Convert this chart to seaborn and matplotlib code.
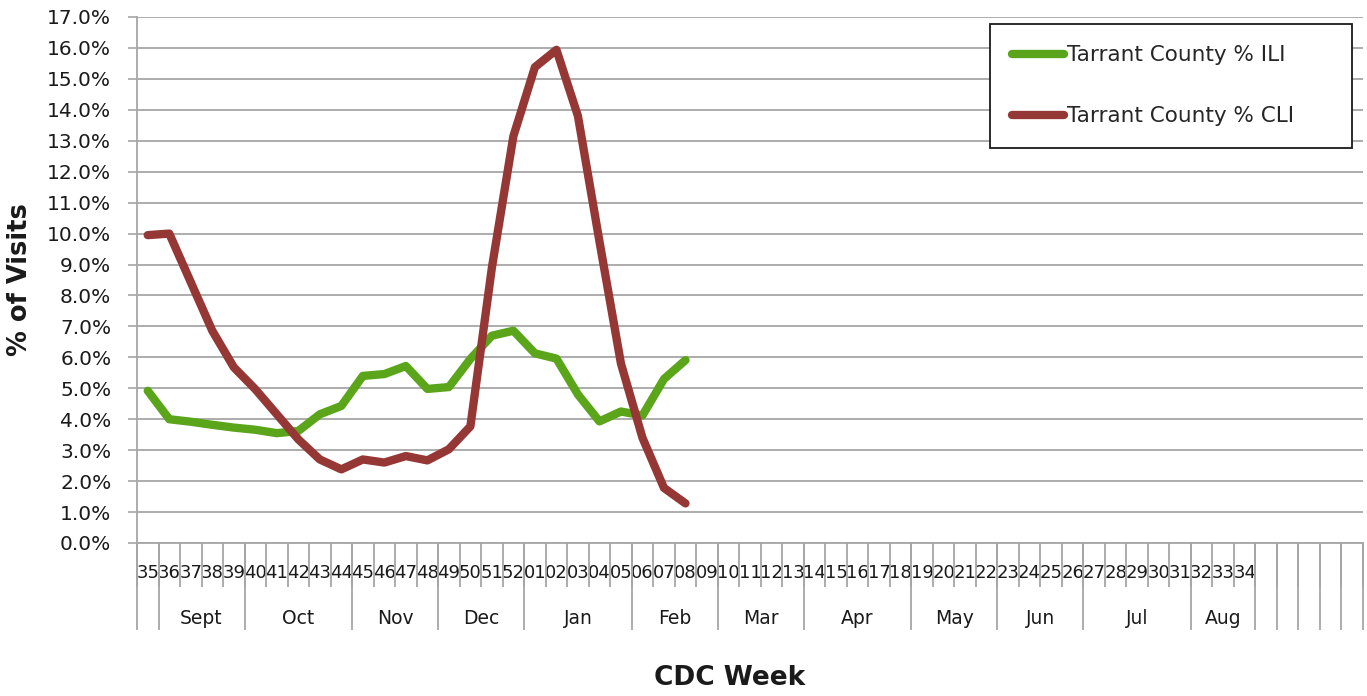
import numpy as np
import pandas as pd
import matplotlib
matplotlib.use("Agg")
import matplotlib.pyplot as plt
import seaborn as sns

# CDC week slots on the x axis (35 .. 52, 01 .. 34)
weeks = ["35", "36", "37", "38", "39", "40", "41", "42", "43", "44", "45",
         "46", "47", "48", "49", "50", "51", "52", "01", "02", "03", "04",
         "05", "06", "07", "08", "09", "10", "11", "12", "13", "14", "15",
         "16", "17", "18", "19", "20", "21", "22", "23", "24", "25", "26",
         "27", "28", "29", "30", "31", "32", "33", "34"]
extra_slots = 5  # empty columns after week 34

# month groups under the week labels (label, number of week slots)
months = ["", "Sept", "Oct", "Nov", "Dec", "Jan", "Feb", "Mar", "Apr",
          "May", "Jun", "Jul", "Aug"]
month_spans = [1, 4, 5, 4, 4, 5, 4, 4, 5, 4, 4, 5, 3]

# % of visits, weeks 35 .. 08
ili = [4.92, 4.00, 3.92, 3.82, 3.73, 3.66, 3.55, 3.62, 4.16, 4.43, 5.40,
       5.46, 5.72, 4.98, 5.04, 5.95, 6.70, 6.86, 6.13, 5.96, 4.80, 3.93,
       4.25, 4.12, 5.30, 5.91]
cli = [9.95, 10.00, 8.43, 6.86, 5.68, 4.97, 4.16, 3.35, 2.70, 2.38, 2.70,
       2.60, 2.81, 2.67, 3.03, 3.77, 8.90, 13.15, 15.38, 15.94, 13.80, 9.75,
       5.80, 3.40, 1.78, 1.28]

series_names = ["Tarrant County % ILI", "Tarrant County % CLI"]
colors = {"Tarrant County % ILI": "#5aa51a",
          "Tarrant County % CLI": "#953735"}

df = pd.concat([
    pd.DataFrame({"pos": range(len(ili)), "value": ili,
                  "series": series_names[0]}),
    pd.DataFrame({"pos": range(len(cli)), "value": cli,
                  "series": series_names[1]}),
])

sns.set_style("white")
plt.rcParams["font.family"] = ["DejaVu Sans"]

fig = plt.figure(figsize=(13.67, 6.96), dpi=100)
ax = fig.add_axes([137 / 1367, 1 - 543 / 696, 1226 / 1367, 526 / 696])

sns.lineplot(data=df, x="pos", y="value", hue="series", palette=colors,
             hue_order=series_names, linewidth=6, sort=False, ax=ax,
             solid_capstyle="round", solid_joinstyle="round")

n_slots = len(weeks) + extra_slots
ax.set_xlim(-0.5, n_slots - 0.5)
ax.set_ylim(0, 17)

grid_c = "#a6a6a6"
ax.set_yticks(np.arange(0, 18))
ax.yaxis.set_major_formatter(matplotlib.ticker.StrMethodFormatter("{x:.1f}%"))
ax.yaxis.grid(True, color=grid_c, linewidth=1.3)
ax.set_axisbelow(True)
ax.tick_params(axis="y", length=6.5, width=1.2, color=grid_c, pad=12,
               labelsize=14.5, labelcolor="#1a1a1a", left=True)

ax.set_xticks(range(len(weeks)))
ax.set_xticklabels(weeks)
ax.tick_params(axis="x", length=0, pad=15, labelsize=13, labelcolor="#1a1a1a")

for side in ["top", "right"]:
    ax.spines[side].set_visible(False)
for side in ["left", "bottom"]:
    ax.spines[side].set_color(grid_c)
    ax.spines[side].set_linewidth(1.3)

# week separators and month separators below the axis
xt = ax.get_xaxis_transform()
ax.vlines(np.arange(0, n_slots + 1) - 0.5, -0.084, 0, transform=xt,
          color=grid_c, linewidth=1.3, clip_on=False)
bounds = np.concatenate([[0], np.cumsum(month_spans),
                         len(weeks) + np.arange(1, extra_slots + 1)])
ax.vlines(bounds - 0.5, -0.165, 0, transform=xt, color=grid_c,
          linewidth=1.3, clip_on=False)
starts = np.concatenate([[0], np.cumsum(month_spans)[:-1]])
for name, s, n in zip(months, starts, month_spans):
    if name:
        ax.text(s + n / 2 - 0.5, -0.1426, name, transform=xt, ha="center",
                va="center", fontsize=13.5, color="#1a1a1a")

ax.set_xlabel("CDC Week", fontsize=19, fontweight="bold", color="#1a1a1a")
ax.xaxis.set_label_coords(0.4837, -0.232)
ax.set_ylabel("% of Visits", fontsize=18.5, fontweight="bold", color="#1a1a1a")
ax.yaxis.set_label_coords(-0.085, 0.5)

handles, labels = ax.get_legend_handles_labels()
leg = ax.legend(handles, labels, loc="upper left",
                bbox_to_anchor=(0.6958, 0.5, 0.2953, 0.487), mode="expand",
                borderaxespad=0, fontsize=15.5, frameon=True, fancybox=False,
                framealpha=1, edgecolor="#1a1a1a", handlelength=2.42,
                handletextpad=0.15, borderpad=1.0, labelspacing=1.9)
leg.get_frame().set_linewidth(1.3)
for line in leg.get_lines():
    line.set_linewidth(6)
    line.set_solid_capstyle("round")

fig.savefig("out.png", dpi=100)
